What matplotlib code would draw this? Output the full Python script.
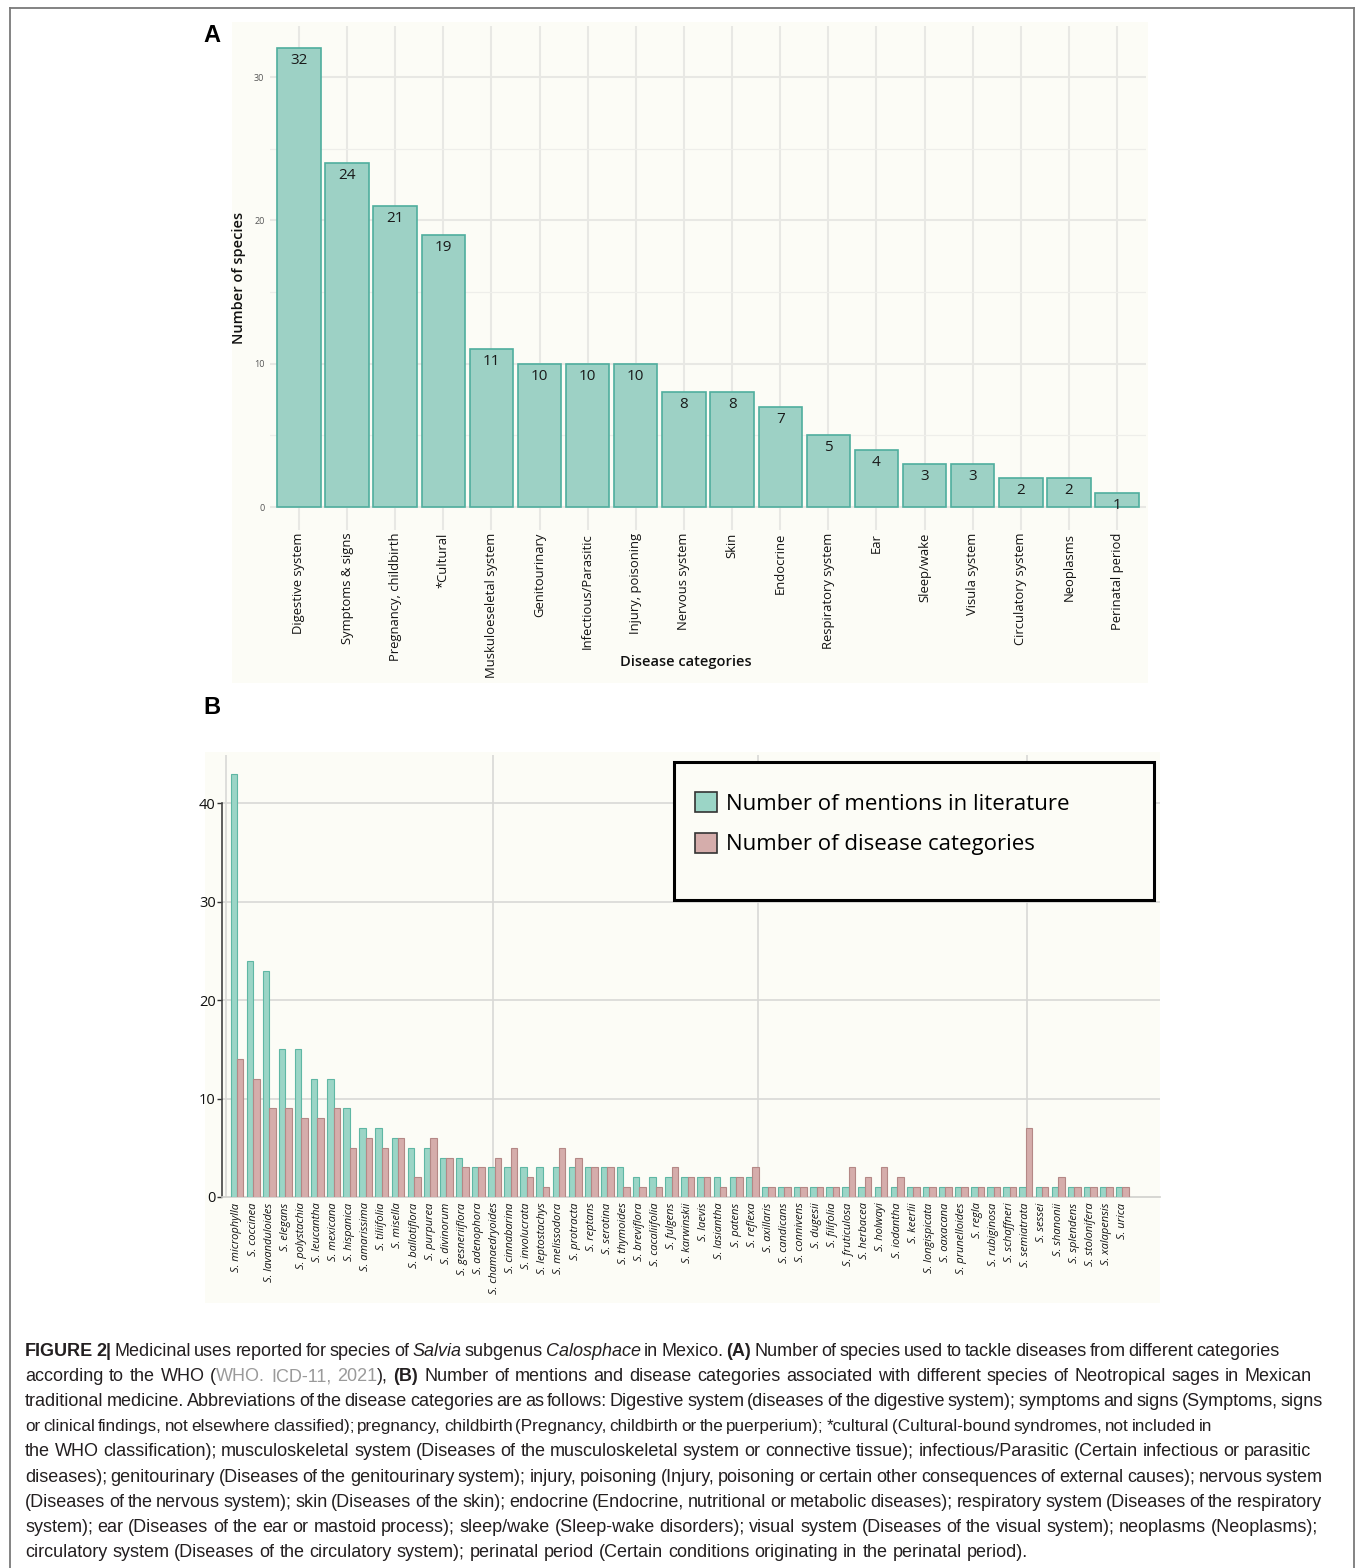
import matplotlib.pyplot as plt
from matplotlib.patches import Rectangle, Patch
from matplotlib.lines import Line2D
import numpy as np

W, H = 1357, 1568

# ---- panel A data
categories = ['Digestive system', 'Symptoms & signs', 'Pregnancy, childbirth', '*Cultural',
              'Muskuloeseletal system', 'Genitourinary', 'Infectious/Parasitic', 'Injury, poisoning',
              'Nervous system', 'Skin', 'Endocrine', 'Respiratory system', 'Ear', 'Sleep/wake',
              'Visula system', 'Circulatory system', 'Neoplasms', 'Perinatal period']
n_species = [32, 24, 21, 19, 11, 10, 10, 10, 8, 8, 7, 5, 4, 3, 3, 2, 2, 1]

# ---- panel B data
species = ['S. microphylla', 'S. coccinea', 'S. lavanduloides', 'S. elegans', 'S. polystachia',
           'S. leucantha', 'S. mexicana', 'S. hispanica', 'S. amarissima', 'S. tiliifolia',
           'S. misella', 'S. ballotiflora', 'S. purpurea', 'S. divinorum', 'S. gesneriiflora',
           'S. adenophora', 'S. chamaedryoides', 'S. cinnabarina', 'S. involucrata',
           'S. leptostachys', 'S. melissodora', 'S. protracta', 'S. reptans', 'S. serotina',
           'S. thymoides', 'S. breviflora', 'S. cacaliifolia', 'S. fulgens', 'S. karwinskii',
           'S. laevis', 'S. lasiantha', 'S. patens', 'S. reflexa', 'S. axillaris', 'S. candicans',
           'S. connivens', 'S. dugesii', 'S. filifolia', 'S. fruticulosa', 'S. herbacea',
           'S. holwayi', 'S. iodantha', 'S. keerlii', 'S. longispicata', 'S. oaxacana',
           'S. prunelloides', 'S. regla', 'S. rubiginosa', 'S. schaffneri', 'S. semiatrata',
           'S. sessei', 'S. shanonii', 'S. splendens', 'S. stolonifera', 'S. xalapensis', 'S. urica']
mentions = [43, 24, 23, 15, 15, 12, 12, 9, 7, 7, 6, 5, 5, 4, 4, 3, 3, 3, 3, 3, 3, 3, 3, 3, 3,
            2, 2, 2, 2, 2, 2, 2, 2, 1, 1, 1, 1, 1, 1, 1, 1, 1, 1, 1, 1, 1, 1, 1, 1, 1, 1, 1, 1, 1, 1, 1]
disease_cats = [14, 12, 9, 9, 8, 8, 9, 5, 6, 5, 6, 2, 6, 4, 3, 3, 4, 5, 2, 1, 5, 4, 3, 3, 1,
                1, 1, 3, 2, 2, 1, 2, 3, 1, 1, 1, 1, 1, 3, 2, 3, 2, 1, 1, 1, 1, 1, 1, 1, 7, 1, 2, 1, 1, 1, 1]
legend_labels = ['Number of mentions in literature', 'Number of disease categories']

cream = '#fcfcf6'
teal, teal_edge = '#9dd1c5', '#4fae9e'
teal_b, teal_b_edge = '#9bd5c6', '#5fb7a4'
pink_b, pink_b_edge = '#d5adab', '#b48886'
chart_font = ['Open Sans', 'DejaVu Sans']


def box(l, t, r, b):
    return [l / W, 1 - b / H, (r - l) / W, (b - t) / H]


fig = plt.figure(figsize=(W / 100, H / 100), dpi=100)
fig.patch.set_facecolor('white')

# outer frame
fig.add_artist(Line2D([10 / W, 10 / W], [0, 1 - 8 / H], transform=fig.transFigure, color='#7a7a7a', lw=1.3))
fig.add_artist(Line2D([1354 / W, 1354 / W], [0, 1 - 8 / H], transform=fig.transFigure, color='#7a7a7a', lw=1.3))
fig.add_artist(Line2D([10 / W, 1354 / W], [1 - 8 / H, 1 - 8 / H], transform=fig.transFigure, color='#7a7a7a', lw=1.3))

# cream plot backgrounds
for l, t, r, b in [(232, 22, 1148, 683), (205, 752, 1160, 1303)]:
    fig.add_artist(Rectangle((l / W, 1 - b / H), (r - l) / W, (b - t) / H,
                             transform=fig.transFigure, facecolor=cream, edgecolor='none', zorder=0))

# ================= panel A
axA = fig.add_axes(box(270, 25.5, 1146, 530))
axA.set_facecolor(cream)
xa = np.arange(len(categories))
bars = axA.bar(xa, n_species, width=0.9, color=teal, edgecolor=teal_edge, linewidth=1.2, zorder=3)
for xi, v in zip(xa, n_species):
    axA.annotate(str(v), (xi, v), xytext=(0, -3.5), textcoords='offset points',
                 ha='center', va='top', fontsize=11, family=chart_font, color='#1a1a1a', zorder=4)
axA.set_xlim(-0.6, len(categories) - 0.4)
axA.set_ylim(-1.6, 33.6)
axA.set_yticks([0, 10, 20, 30])
axA.set_yticks([5, 15, 25], minor=True)
axA.set_xticks(xa)
axA.set_xticklabels(categories, rotation=90, fontsize=9.4, family=chart_font, color='#111111')
axA.tick_params(axis='x', length=0, pad=2)
axA.tick_params(axis='y', which='both', length=0, pad=4, labelsize=6.5, labelcolor='#555555')
for lab in axA.get_yticklabels():
    lab.set_family(chart_font)
axA.grid(which='major', color='#e8e8e4', linewidth=1.5, zorder=0)
axA.grid(which='minor', axis='y', color='#eeeeea', linewidth=0.9, zorder=0)
axA.set_axisbelow(True)
for s in axA.spines.values():
    s.set_visible(False)
axA.set_ylabel('Number of species', fontsize=10.5, family=chart_font, fontweight='semibold', color='#111111')
axA.yaxis.set_label_coords((246 - 270) / 876, 0.5)
axA.set_xlabel('Disease categories', fontsize=10.5, family=chart_font, fontweight='semibold', color='#111111')
axA.xaxis.set_label_coords((686 - 270) / 876, -(655 - 530) / 504.5)

# ================= panel B
axB = fig.add_axes(box(222, 755, 1160, 1197))
axB.set_facecolor(cream)
xb = np.arange(len(species))
b1 = axB.bar(xb - 0.2, mentions, width=0.4, color=teal_b, edgecolor=teal_b_edge, linewidth=0.8, zorder=3,
             label=legend_labels[0])
b2 = axB.bar(xb + 0.2, disease_cats, width=0.4, color=pink_b, edgecolor=pink_b_edge, linewidth=0.8, zorder=3,
             label=legend_labels[1])
axB.set_xlim(-0.93, 57.33)
axB.set_ylim(0, 44.9)
axB.set_yticks([0, 10, 20, 30, 40])
for yv in [10, 20, 30, 40]:
    axB.axhline(yv, color='#d9d9d6', linewidth=1.2, zorder=1)
for xv in [-0.68, 15.9, 32.36, 49.1]:
    axB.axvline(xv, color='#d9d9d6', linewidth=1.2, zorder=1)
axB.set_xticks(xb)
axB.set_xticklabels(species, rotation=90, fontsize=8, family=chart_font, style='italic', color='#111111')
axB.tick_params(axis='x', length=0, pad=4)
axB.tick_params(axis='y', length=3.5, width=1, color='#333333', pad=1, labelsize=10.5, labelcolor='#111111')
for lab in axB.get_yticklabels():
    lab.set_family(chart_font)
for s in ['top', 'right']:
    axB.spines[s].set_visible(False)
axB.spines['bottom'].set_color('#d0d0cc')
axB.spines['bottom'].set_linewidth(1.2)
axB.spines['left'].set_color('#444444')
axB.spines['left'].set_linewidth(1.2)
axB.spines['left'].set_bounds(0, 40)

# legend box
fig.add_artist(Rectangle((674 / W, 1 - 900 / H), 480 / W, 138 / H, transform=fig.transFigure,
                         facecolor=cream, edgecolor='black', linewidth=2.2, zorder=5))
leg = fig.legend(handles=[Patch(facecolor=teal_b, edgecolor='#333333', linewidth=1.2),
                          Patch(facecolor=pink_b, edgecolor='#333333', linewidth=1.2)],
                 labels=legend_labels, loc='upper left', bbox_to_anchor=(695 / W, 1 - 792 / H),
                 frameon=False, prop={'family': chart_font, 'size': 16},
                 handlelength=1.0, handleheight=1.0, handletextpad=0.4, labelspacing=0.82,
                 borderpad=0, borderaxespad=0)
leg.set_zorder(6)

# panel letters
fig.text(212 / W, 1 - 35 / H, 'A', fontsize=17, fontweight='bold', family='Liberation Sans',
         ha='center', va='center')
fig.text(212 / W, 1 - 708 / H, 'B', fontsize=17, fontweight='bold', family='Liberation Sans',
         ha='center', va='center')

# ================= caption
cap_lines = [
    [('FIGURE 2|', 'b'), (' Medicinal uses reported for species of ', 'n'), ('Salvia', 'i'), (' subgenus ', 'n'),
     ('Calosphace', 'i'), (' in Mexico. ', 'n'), ('(A)', 'b'),
     (' Number of species used to tackle diseases from different categories', 'n')],
    [('according to the WHO (', 'n'), ('WHO. ICD-11, 2021', 'g'), ('), ', 'n'), ('(B)', 'b'),
     (' Number of mentions and disease categories associated with different species of Neotropical sages in Mexican', 'n')],
    [('traditional medicine. Abbreviations of the disease categories are as follows: Digestive system (diseases of the digestive system); symptoms and signs (Symptoms, signs', 'n')],
    [('or clinical findings, not elsewhere classified); pregnancy, childbirth (Pregnancy, childbirth or the puerperium); *cultural (Cultural-bound syndromes, not included in', 'n')],
    [('the WHO classification); musculoskeletal system (Diseases of the musculoskeletal system or connective tissue); infectious/Parasitic (Certain infectious or parasitic', 'n')],
    [('diseases); genitourinary (Diseases of the genitourinary system); injury, poisoning (Injury, poisoning or certain other consequences of external causes); nervous system', 'n')],
    [('(Diseases of the nervous system); skin (Diseases of the skin); endocrine (Endocrine, nutritional or metabolic diseases); respiratory system (Diseases of the respiratory', 'n')],
    [('system); ear (Diseases of the ear or mastoid process); sleep/wake (Sleep-wake disorders); visual system (Diseases of the visual system); neoplasms (Neoplasms);', 'n')],
    [('circulatory system (Diseases of the circulatory system); perinatal period (Certain conditions originating in the perinatal period).', 'n')],
]
cap_right = [1280, 1312, 1323, 1212, 1311, 1323, 1322, 1318, None]
cap_fs = 13.0


def cap_kw(style, fs):
    return dict(family='Liberation Sans', fontsize=fs,
                fontweight='bold' if style == 'b' else 'normal',
                fontstyle='italic' if style == 'i' else 'normal',
                color='#9a9a9a' if style == 'g' else '#231f20')


renderer = fig.canvas.get_renderer()


def width_px(t):
    return t.get_window_extent(renderer).width


for k, (pieces, right) in enumerate(zip(cap_lines, cap_right)):
    baseline = 1356 + 25.1 * k
    words, cur = [], []
    for text, style in pieces:
        for j, p in enumerate(text.split(' ')):
            if j > 0 and cur:
                words.append(cur)
                cur = []
            if p:
                cur.append((p, style))
    if cur:
        words.append(cur)
    fs = cap_fs
    objs = [[fig.text(0, 1 - baseline / H, p, va='baseline', ha='left', **cap_kw(s, fs)) for p, s in w]
            for w in words]
    sp_a = fig.text(0, 0, 'a a', **cap_kw('n', fs))
    sp_b = fig.text(0, 0, 'aa', **cap_kw('n', fs))
    space = width_px(sp_a) - width_px(sp_b)
    sp_a.remove()
    sp_b.remove()
    wsum = sum(width_px(o) for w in objs for o in w)
    if right is None:
        gap = space
    else:
        gap = (right - 25 - wsum) / (len(objs) - 1)
        if gap < 0.6 * space:
            scale = (right - 25 - 0.6 * space * (len(objs) - 1)) / wsum
            for w in objs:
                for o in w:
                    o.set_fontsize(fs * scale)
            wsum = sum(width_px(o) for w in objs for o in w)
            gap = (right - 25 - wsum) / (len(objs) - 1)
    x = 25
    for w in objs:
        for o in w:
            o.set_x(x / W)
            x += width_px(o)
        x += gap

fig.savefig('out.png', dpi=100, facecolor='white')
